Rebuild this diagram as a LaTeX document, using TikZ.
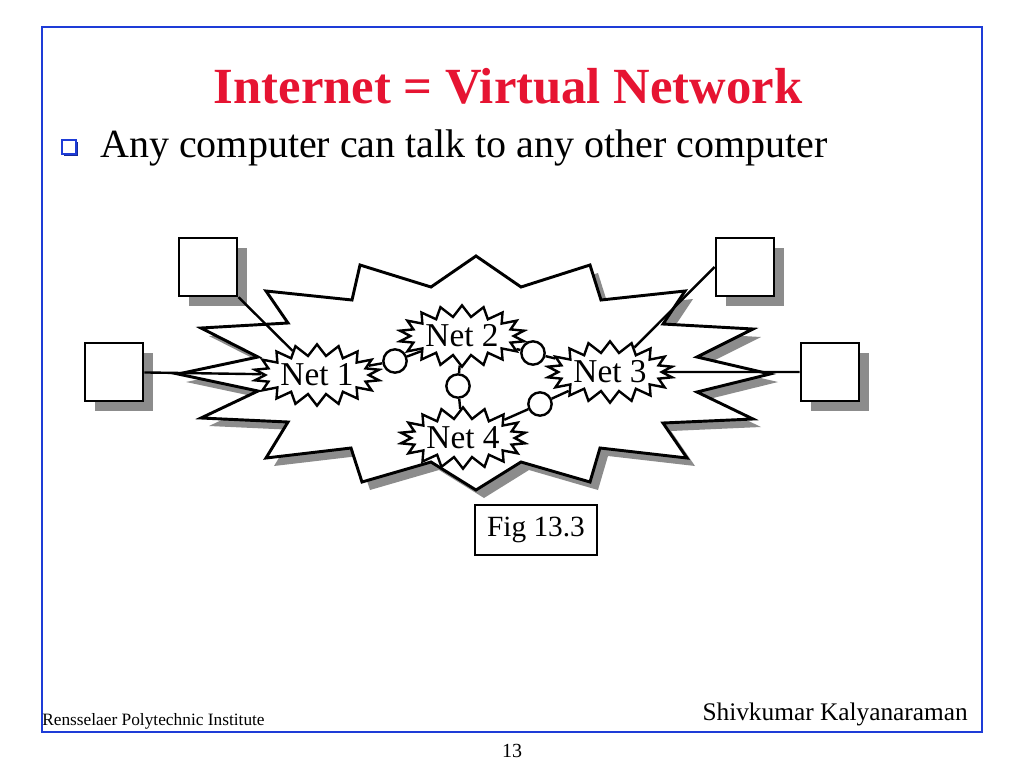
\documentclass[tikz,border=0pt]{standalone}
\usepackage{fontspec}
\setmainfont{Liberation Serif}
\usepackage{tikz}
\usetikzlibrary{positioning,shapes.symbols,shadows}
\definecolor{slidered}{RGB}{230,20,50}
\definecolor{slideblue}{RGB}{30,60,215}
\definecolor{shade}{RGB}{140,140,140}

\begin{document}
\begin{tikzpicture}[x=0.75pt,y=-0.75pt,
  txt/.style={inner sep=0pt},
  host/.style={draw,fill=white,line width=2.2pt,minimum size=43.5pt,inner sep=0pt,
    drop shadow={shadow xshift=7.5pt,shadow yshift=-7.5pt,fill=shade,opacity=1}},
  net/.style={starburst,starburst points=18,starburst point height=8.5pt,random starburst=0,
    draw,fill=white,line width=1.8pt,inner sep=0pt,minimum width=80pt,minimum height=46pt,
    font=\fontsize{25}{25}\selectfont},
  router/.style={circle,draw,fill=white,line width=1.8pt,minimum size=17.5pt,inner sep=0pt},
  link/.style={line width=1.8pt}]
\useasboundingbox (0,0) rectangle (1024,768);

% slide frame and texts
\draw[slideblue,line width=2.2pt] (42,27) rectangle (982,732);
\node(title)	[txt,anchor=base,text=slidered,font=\fontsize{38}{38}\selectfont\bfseries] at (508,103)
{Internet = Virtual Network};
\node(tick)	[draw=slideblue,fill=white,line width=1.4pt,minimum size=10pt,inner sep=0pt,
  drop shadow={shadow xshift=1.5pt,shadow yshift=-1.5pt,fill=slideblue!70!black,opacity=1}] at (69,147) {};
\node(point)	[txt,anchor=base west,font=\fontsize{30}{30}\selectfont] at (100,157)
{Any computer can talk to any other computer};

% the internet
\draw[line width=2.2pt,fill=white,drop shadow={shadow xshift=6pt,shadow yshift=-6pt,fill=shade,opacity=1}]
  (476,256) -- (521,287) -- (590,265) -- (601,300) -- (685,291) -- (663,324) -- (753,329)
  -- (697,357) -- (770,374) -- (697,392) -- (753,419) -- (663,423) -- (687,458) -- (600,448)
  -- (590,482) -- (521,462) -- (476,490) -- (431,462) -- (362,482) -- (351,448) -- (266,458)
  -- (288,422) -- (201,418) -- (258,391) -- (178,374) -- (258,357) -- (201,328) -- (288,323)
  -- (266,291) -- (352,300) -- (360,265) -- (431,287) -- cycle;

\node(n1)	[net] at (317,375) {Net 1};
\node(n2)	[net] at (462,336) {Net 2};
\node(n3)	[net] at (610,372) {Net 3};
\node(n4)	[net] at (463,438) {Net 4};

\node(r12)	[router] at (395,361) {};
\node(r23)	[router] at (533,353) {};
\node(r24)	[router] at (458,386) {};
\node(r43)	[router] at (540,404) {};

\node(h1)	[host] at (208,267) {};
\node(h2)	[host] at (114,372) {};
\node(h3)	[host] at (745,267) {};
\node(h4)	[host] at (830,372) {};

\node(fig)	[draw,line width=1.8pt,minimum width=91.5pt,minimum height=37.5pt,
  font=\fontsize{22}{22}\selectfont] at (536,530) {Fig 13.3};

\draw[link] (h1) -- (n1);
\draw[link] (h2) -- (n1);
\draw[link] (h3.west) -- (n3);
\draw[link] (h4) -- (n3);
\draw[link] (n1) -- (r12) -- (n2);
\draw[link] (n2) -- (r23) -- (n3);
\draw[link] (n2) -- (r24) -- (n4);
\draw[link] (n4) -- (r43) -- (n3);

% footer
\node(inst)	[txt,anchor=base west,font=\fontsize{13}{13}\selectfont] at (42,725)
{Rensselaer Polytechnic Institute};
\node(auth)	[txt,anchor=base east,font=\fontsize{19}{19}\selectfont] at (968,720)
{Shivkumar Kalyanaraman};
\node(page)	[txt,anchor=base,font=\fontsize{15}{15}\selectfont] at (512,757) {13};
\end{tikzpicture}
\end{document}
